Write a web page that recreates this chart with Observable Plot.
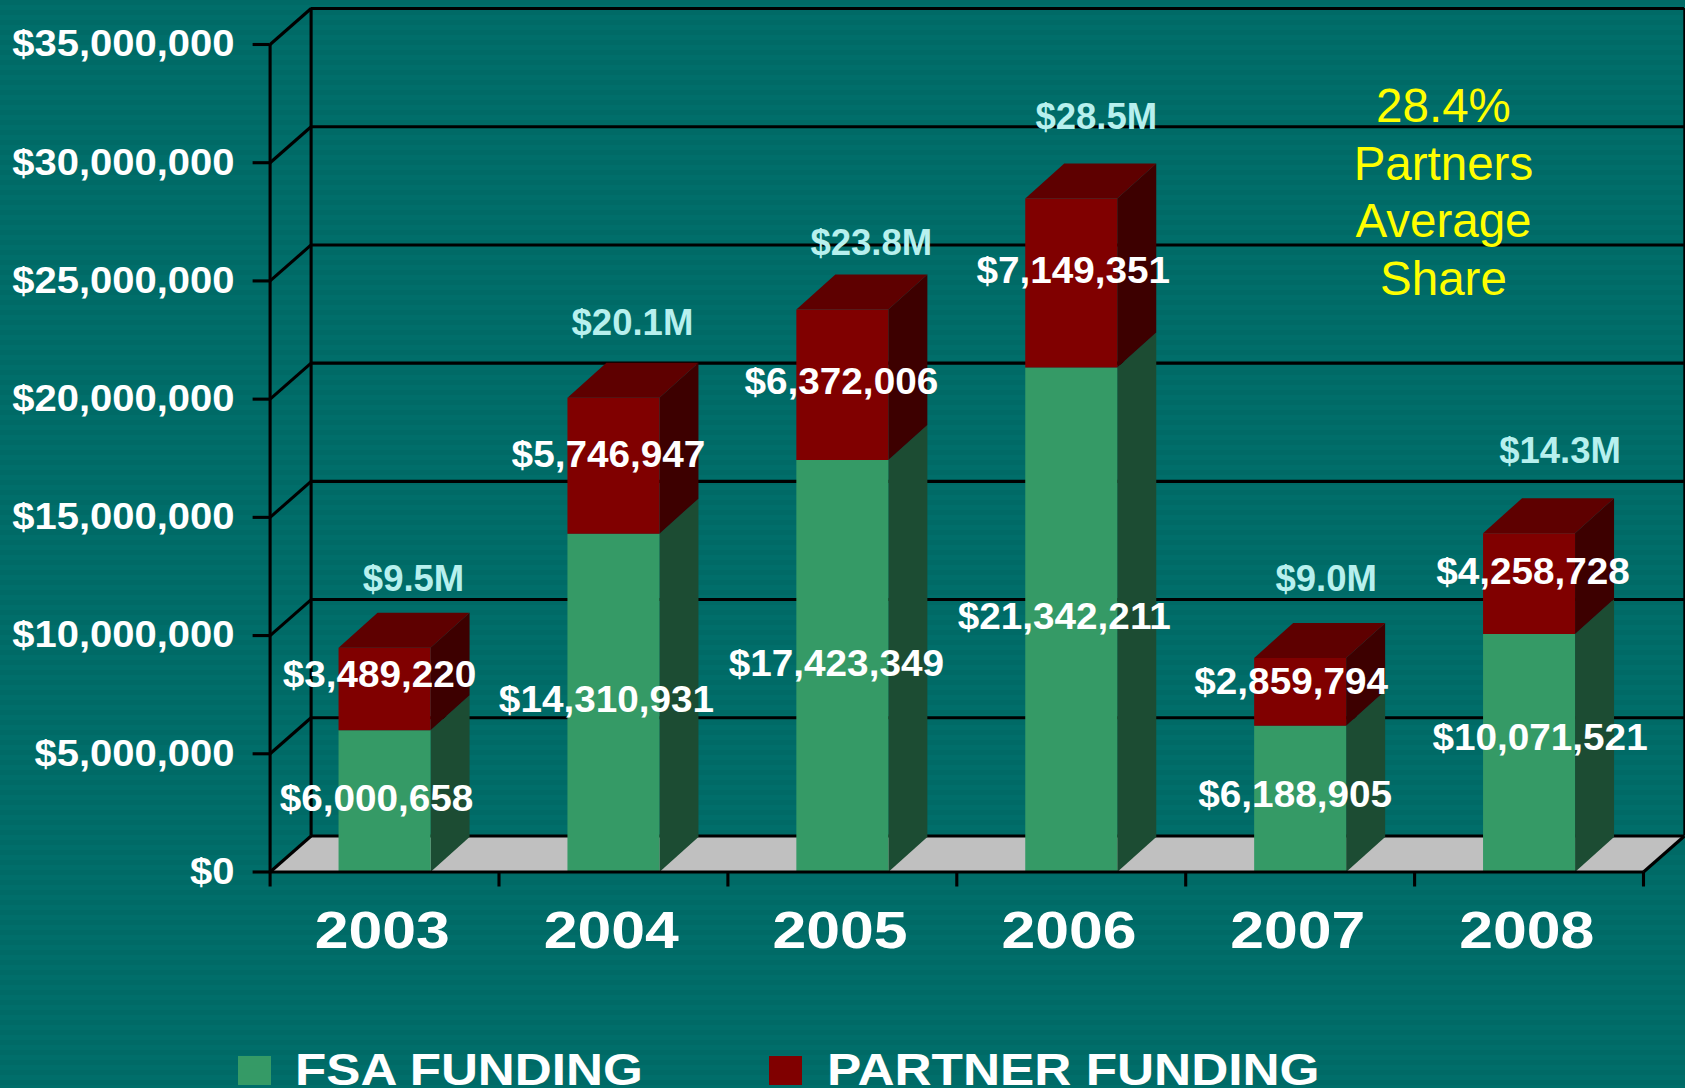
<!DOCTYPE html>
<html><head><meta charset="utf-8">
<script src="https://cdn.jsdelivr.net/npm/d3@7"></script>
<script src="https://cdn.jsdelivr.net/npm/@observablehq/plot@0.6"></script>
<style>
html,body{margin:0;padding:0;width:1685px;height:1088px;overflow:hidden;font-family:"Liberation Sans",Arial,sans-serif;
background:repeating-linear-gradient(180deg,#006a66 0,#006a66 5px,#006e6a 5px,#006e6a 10px);}
#chart{position:absolute;left:0;top:0}
.lg{position:absolute;top:1056px;width:33px;height:29px}
.lt{position:absolute;top:1052px;font-weight:bold;font-size:44px;line-height:36px;color:#fff;transform-origin:left center;white-space:nowrap}
</style></head><body>
<div id="chart"></div>
<div class="lg" style="left:238px;background:#359a66"></div>
<div class="lt" style="left:295px;transform:scaleX(1.163)">FSA FUNDING</div>
<div class="lg" style="left:769px;background:#800000"></div>
<div class="lt" style="left:827px;transform:scaleX(1.167)">PARTNER FUNDING</div>
<script>
const years=["2003","2004","2005","2006","2007","2008"];
const fsa=[6000658,14310931,17423349,21342211,6188905,10071521];
const partner=[3489220,5746947,6372006,7149351,2859794,4258728];
const yTicks=[0,5e6,10e6,15e6,20e6,25e6,30e6,35e6];
const note="28.4%\nPartners\nAverage\nShare";
// hand placement of the value labels relative to bar centre / segment middle, px
const fsaNudgeX=[-8,-7,-6,-7,-5,11], fsaNudgeY=[2,2,2,2,3,14];
const partnerNudgeX=[-5,-5,-1,2,-9,4], partnerNudgeY=[13,10,2,11,9,11];
const totalNudgeX=[29,19,29,25,26,31], totalNudgeY=[33,39,31,46,44,47];

const X0=269.6,X1=1643,Y0=871.5,Y35=44,H=1040,W=1685;
const pxX=(X1-X0)/6, pxY=(Y0-Y35)/35e6;          // px per x unit, px per dollar
const ux=p=>p/pxX, uy=p=>p/pxY;
const barW=ux(92), cOff=0.5;
const dX=ux(39), dY=uy(35);                     // bar depth
const wX=ux(41), wY=uy(36);                     // wall depth
const yMax=35e6+wY, xEnd=6+wX;

const rows=years.map((year,i)=>({year,i,fsa:fsa[i],partner:partner[i],total:fsa[i]+partner[i],
  c:i+cOff,l:i+cOff-barW/2,r:i+cOff+barW/2}));

function face(id,corners){return corners.map(([x,y])=>({id,x,y}));}
const floor=face("floor",[[0,0],[6,0],[xEnd,wY],[wX,wY]]);
const greenFront=[],redFront=[],greenSide=[],redSide=[],redTop=[];
for(const r of rows){
  const {l,r:R,fsa:f,total:t}=r;
  greenFront.push(...face(r.year,[[l,0],[R,0],[R,f],[l,f]]));
  redFront.push(...face(r.year,[[l,f],[R,f],[R,t],[l,t]]));
  greenSide.push(...face(r.year,[[R,0],[R+dX,dY],[R+dX,f+dY],[R,f]]));
  redSide.push(...face(r.year,[[R,f],[R+dX,f+dY],[R+dX,t+dY],[R,t]]));
  redTop.push(...face(r.year,[[l,t],[R,t],[R+dX,t+dY],[l+dX,t+dY]]));
}
const poly=(d,fill)=>Plot.line(d,{x:"x",y:"y",z:"id",fill,stroke:"none",curve:"linear-closed"});
const usd=d3.format("$,");
const ink="#000", lw=3.1;

const plot=Plot.plot({
  width:W,height:H,marginLeft:X0,marginRight:W-X1,marginTop:Y35,marginBottom:H-Y0,
  style:{fontFamily:"Liberation Sans, Arial, sans-serif",background:"transparent",overflow:"visible"},
  x:{type:"linear",domain:[0,6],axis:null},
  y:{type:"linear",domain:[0,35e6],axis:null},
  marks:[
    poly(floor,"#c0c0c0"),
    // back wall grid
    Plot.ruleY(yTicks,{x1:wX,x2:xEnd,y:d=>d+wY,stroke:ink,strokeWidth:lw}),
    Plot.ruleX([xEnd],{y1:wY,y2:yMax,stroke:ink,strokeWidth:2.4}),
    Plot.ruleX([wX],{y1:wY,y2:yMax,stroke:ink,strokeWidth:lw}),
    // left wall diagonals
    Plot.link(yTicks,{x1:0,x2:wX,y1:d=>d,y2:d=>d+wY,stroke:ink,strokeWidth:lw}),
    Plot.link([0],{x1:6,x2:xEnd,y1:0,y2:wY,stroke:ink,strokeWidth:lw}),
    Plot.ruleX([0],{y1:0,y2:35e6,stroke:ink,strokeWidth:lw}),
    // bars
    poly(greenSide,"#1c4c33"),
    poly(redSide,"#3d0000"),
    poly(redTop,"#5e0000"),
    poly(greenFront,"#359a66"),
    poly(redFront,"#800000"),
    // axes
    Plot.ruleY([0],{x1:0,x2:6,stroke:ink,strokeWidth:lw}),
    Plot.axisY({ticks:yTicks,tickFormat:usd,anchor:"left",tickSize:17,tickPadding:18.6,fontSize:37,fontWeight:"bold",fill:"#fff",stroke:ink,strokeWidth:lw,label:null}),
    Plot.axisX({ticks:[0,1,2,3,4,5,6],anchor:"bottom",tickSize:15,tickFormat:()=>"",stroke:ink,strokeWidth:lw,label:null}),
    Plot.axisX({ticks:years.map((_,i)=>i+0.49),anchor:"bottom",tickSize:0,tickPadding:40,tickFormat:d=>years[Math.floor(d)],fontSize:51,fontWeight:"bold",fill:"#fff",label:null}),
    // value labels
    Plot.text(rows,{x:d=>d.c+ux(fsaNudgeX[d.i]),y:d=>d.fsa/2+uy(fsaNudgeY[d.i]),text:d=>usd(d.fsa),fontSize:36,fontWeight:"bold",fill:"#fff",className:"val"}),
    Plot.text(rows,{x:d=>d.c+ux(partnerNudgeX[d.i]),y:d=>d.fsa+d.partner/2+uy(partnerNudgeY[d.i]),text:d=>usd(d.partner),fontSize:36,fontWeight:"bold",fill:"#fff",className:"val"}),
    Plot.text(rows,{x:d=>d.c+ux(totalNudgeX[d.i]),y:d=>d.total+dY+uy(totalNudgeY[d.i]),text:d=>`$${(d.total/1e6).toFixed(1)}M`,fontSize:36.5,fontWeight:"bold",fill:"#b7f0ee"}),
    // annotation
    Plot.text([note],{x:5.126,y:uy(871.5-189.5),text:d=>d,fontSize:47.5,lineHeight:1.215,fill:"#ffff00",textAnchor:"middle"})
  ]
});
document.getElementById("chart").append(plot);
function stretch(sel,f){
  plot.querySelectorAll(sel).forEach(t=>{
    const w=t.getComputedTextLength();
    if(w>0){t.setAttribute("textLength",w*f);t.setAttribute("lengthAdjust","spacingAndGlyphs");}
  });
}
stretch('g[aria-label="y-axis tick label"] text',1.08);
stretch('g[aria-label="x-axis tick label"] text',1.19);
stretch('.val text',1.075);
</script>
</body></html>
